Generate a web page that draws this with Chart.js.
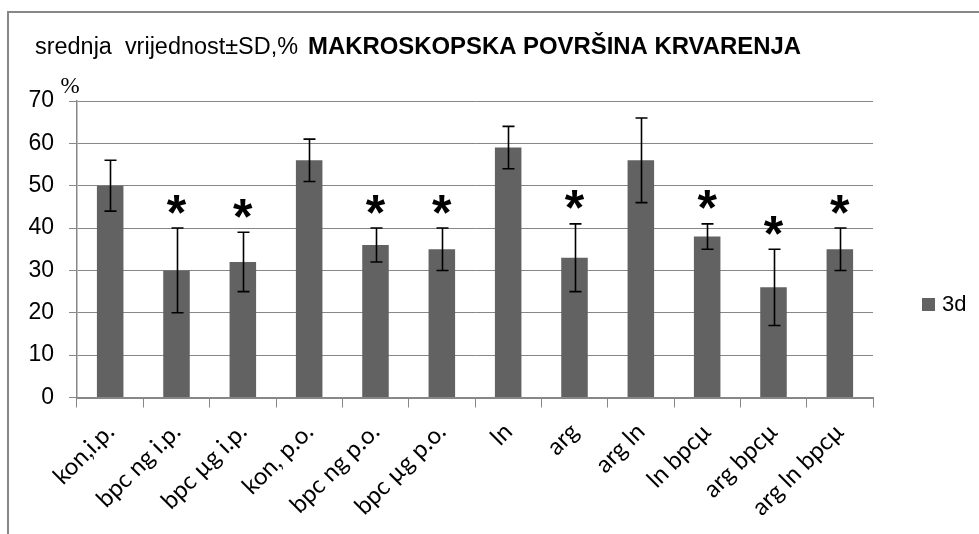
<!DOCTYPE html>
<html>
<head>
<meta charset="utf-8">
<script src="https://cdn.jsdelivr.net/npm/chart.js@4/dist/chart.umd.min.js"></script>
<style>
  html, body { margin: 0; padding: 0; background: #ffffff; }
  #wrap { width: 979px; height: 534px; }
</style>
</head>
<body>
<div id="wrap"><canvas id="c" width="979" height="534"></canvas></div>
<script>
// ---- data ----
const categories = ['kon,i.p.', 'bpc ng i.p.', 'bpc µg i.p.', 'kon, p.o.', 'bpc ng p.o.', 'bpc µg p.o.', 'ln', 'arg', 'arg ln', 'ln bpcµ', 'arg bpcµ', 'arg ln bpcµ'];
const means = [50, 30, 32, 56, 36, 35, 59, 33, 56, 38, 26, 35];
const sds = [6, 10, 7, 5, 4, 5, 5, 8, 10, 3, 9, 5];
const significant = [false, true, true, false, true, true, false, true, false, true, true, true];
const seriesLabel = '3d';
const yMin = 0, yMax = 70, yStep = 10;
const titleNormal = 'srednja  vrijednost±SD,%';
const titleBold = 'MAKROSKOPSKA POVRŠINA KRVARENJA';
const yUnit = '%';

const BAR = '#626262';
const GRID = '#878787';

const decorPlugin = {
  id: 'decor',
  beforeDraw(chart) {
    const ctx = chart.ctx;
    ctx.save();
    ctx.fillStyle = '#ffffff';
    ctx.fillRect(0, 0, chart.width, chart.height);
    // outer frame (clipped on right/bottom)
    ctx.strokeStyle = GRID;
    ctx.lineWidth = 2;
    ctx.beginPath();
    ctx.moveTo(8, chart.height + 5);
    ctx.lineTo(8, 12);
    ctx.lineTo(chart.width + 5, 12);
    ctx.stroke();
    ctx.restore();
  },
  afterDatasetsDraw(chart) {
    const ctx = chart.ctx;
    const xs = chart.scales.x, ys = chart.scales.y;
    ctx.save();
    // error bars
    ctx.strokeStyle = '#000';
    ctx.lineWidth = 1.6;
    means.forEach((m, i) => {
      const x = Math.round(xs.getPixelForValue(i)) + 0.5;
      const yt = ys.getPixelForValue(m + sds[i]);
      const yb = ys.getPixelForValue(m - sds[i]);
      ctx.beginPath();
      ctx.moveTo(x, yt); ctx.lineTo(x, yb);
      ctx.moveTo(x - 6, yt); ctx.lineTo(x + 6, yt);
      ctx.moveTo(x - 6, yb); ctx.lineTo(x + 6, yb);
      ctx.stroke();
    });
    // asterisks
    ctx.fillStyle = '#000';
    ctx.font = 'bold 50px "Liberation Sans", Arial, sans-serif';
    ctx.textAlign = 'center';
    ctx.textBaseline = 'alphabetic';
    const mt = ctx.measureText('*');
    const asc = mt.actualBoundingBoxAscent, desc = mt.actualBoundingBoxDescent;
    means.forEach((m, i) => {
      if (!significant[i]) return;
      const x = xs.getPixelForValue(i);
      const yc = ys.getPixelForValue(m + sds[i]) - 24;
      ctx.fillText('*', x, yc + (asc - desc) / 2);
    });
    ctx.restore();
  },
  afterDraw(chart) {
    const ctx = chart.ctx;
    ctx.save();
    ctx.fillStyle = '#000';
    ctx.textBaseline = 'alphabetic';
    ctx.textAlign = 'left';
    // title, normal part
    ctx.font = '23px "Liberation Sans", Arial, sans-serif';
    let w = ctx.measureText(titleNormal).width;
    ctx.save();
    ctx.translate(35, 54);
    ctx.scale(263 / w, 1);
    ctx.fillText(titleNormal, 0, 0);
    ctx.restore();
    // title, bold part
    ctx.font = 'bold 23px "Liberation Sans", Arial, sans-serif';
    w = ctx.measureText(titleBold).width;
    ctx.save();
    ctx.translate(308, 54);
    ctx.scale(493 / w, 1);
    ctx.fillText(titleBold, 0, 0);
    ctx.restore();
    // unit label
    ctx.font = '23px "Liberation Serif", "Times New Roman", serif';
    ctx.textAlign = 'center';
    ctx.fillText(yUnit, 70, 93);
    // legend
    ctx.fillStyle = BAR;
    ctx.fillRect(922, 298, 13, 13);
    ctx.fillStyle = '#000';
    ctx.textAlign = 'left';
    ctx.textBaseline = 'middle';
    ctx.font = '22px "Liberation Sans", Arial, sans-serif';
    ctx.fillText(seriesLabel, 942, 305);
    ctx.restore();
  }
};

new Chart(document.getElementById('c'), {
  type: 'bar',
  data: {
    labels: categories,
    datasets: [{
      label: seriesLabel,
      data: means,
      backgroundColor: BAR,
      borderWidth: 0,
      barPercentage: 0.4,
      categoryPercentage: 1.0
    }]
  },
  options: {
    responsive: false,
    animation: false,
    devicePixelRatio: 1,
    layout: { padding: { left: 0, top: 101, right: 106, bottom: 0 } },
    plugins: {
      legend: { display: false },
      title: { display: false },
      tooltip: { enabled: false }
    },
    scales: {
      y: {
        min: yMin, max: yMax,
        ticks: {
          stepSize: yStep,
          color: '#000',
          padding: 15,
          font: { family: '"Liberation Sans", Arial, sans-serif', size: 23 }
        },
        grid: { color: GRID, lineWidth: 1, tickLength: 8, drawTicks: true },
        border: { color: GRID, width: 1.5 },
        afterFit(s) { s.width = 77; }
      },
      x: {
        ticks: {
          color: '#000',
          minRotation: 45, maxRotation: 45,
          padding: 10,
          autoSkip: false,
          font: { family: 'Lato, "Open Sans", sans-serif', size: 24 }
        },
        grid: { drawOnChartArea: false, color: GRID, tickLength: 10, offset: true },
        border: { color: GRID, width: 2 },
        afterFit(s) { s.height = 534 - 397.5; }
      }
    }
  },
  plugins: [decorPlugin]
});
</script>
</body>
</html>
